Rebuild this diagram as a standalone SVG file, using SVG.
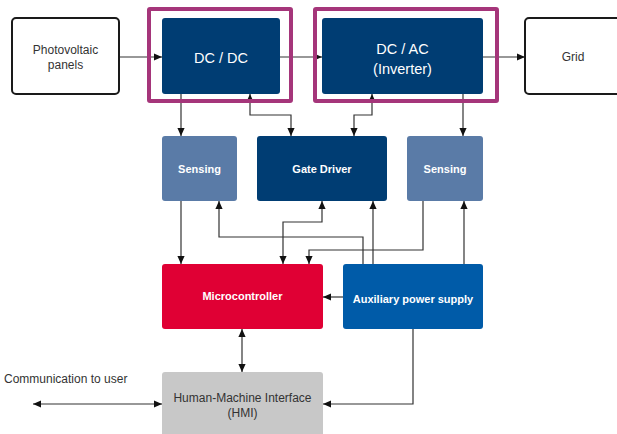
<svg xmlns="http://www.w3.org/2000/svg" width="617" height="434" viewBox="0 0 617 434">
<defs>
<marker id="ah" viewBox="0 0 10 10" refX="10" refY="5" markerWidth="8" markerHeight="8" markerUnits="userSpaceOnUse" orient="auto-start-reverse">
<path d="M0,0.5 L10,5 L0,9.5 z" fill="#111"/>
</marker>
<style>
.ln{fill:none;stroke:#333;stroke-width:1.2}
.ar{marker-end:url(#ah)}
.ar2{marker-start:url(#ah);marker-end:url(#ah)}
.t{font-family:"Liberation Sans",Arial,sans-serif;text-anchor:middle;dominant-baseline:central}
.w{fill:#fff}
.b{font-weight:bold;font-size:11px}
.frame{fill:none;stroke:#A5357A;stroke-width:4}
.ext{fill:#fff;stroke:#1a1a1a;stroke-width:2}
</style>
</defs>
<rect width="617" height="434" fill="#fff"/>

<g id="connectors">
<path class="ln ar" d="M119,57 H162"/>
<path class="ln ar" d="M280,57 H322"/>
<path class="ln ar" d="M483,57 H525"/>
<path class="ln ar" d="M181,94 V136"/>
<path class="ln ar2" d="M250,94 V115 H291 V136"/>
<path class="ln ar2" d="M372,94 V115 H354 V136"/>
<path class="ln ar" d="M463,94 V136"/>
<path class="ln ar" d="M181,201 V264"/>
<path class="ln ar" d="M363,264 V237 H219 V201"/>
<path class="ln ar" d="M373,264 V201"/>
<path class="ln ar2" d="M283,264 V222 H322 V201"/>
<path class="ln ar" d="M423,201 V250 H309 V264"/>
<path class="ln ar" d="M464,264 V201"/>
<path class="ln ar" d="M343,297 H323"/>
<path class="ln ar2" d="M242,329 V372"/>
<path class="ln ar" d="M413,329 V404 H323"/>
<path class="ln ar2" d="M33,404 H162"/>
</g>

<g id="pv">
<rect class="ext" x="12" y="18" width="107" height="76" rx="4"/>
<text class="t" x="65.5" y="50" font-size="12" fill="#333">Photovoltaic</text>
<text class="t" x="65.5" y="65" font-size="12" fill="#333">panels</text>
</g>

<g id="dcdc">
<rect x="162" y="18" width="118" height="76" rx="3" fill="#003D73"/>
<rect class="frame" x="149" y="9" width="142" height="92" rx="1"/>
<text class="t w" x="221" y="58" font-size="14.5">DC / DC</text>
</g>

<g id="dcac">
<rect x="322" y="18" width="161" height="76" rx="3" fill="#003D73"/>
<rect class="frame" x="315" y="9" width="182" height="92" rx="1"/>
<text class="t w" x="402.5" y="49" font-size="14.5">DC / AC</text>
<text class="t w" x="402.5" y="69" font-size="14.5">(Inverter)</text>
</g>

<g id="grid">
<rect class="ext" x="525" y="18" width="100" height="76" rx="4"/>
<text class="t" x="573" y="57" font-size="12" fill="#333">Grid</text>
</g>

<g id="sensing1">
<rect x="162" y="136" width="75" height="65" rx="3" fill="#5A7BA7"/>
<text class="t w b" x="199.5" y="168.5">Sensing</text>
</g>

<g id="gatedriver">
<rect x="257" y="136" width="130" height="65" rx="3" fill="#003D73"/>
<text class="t w b" x="322" y="168.5">Gate Driver</text>
</g>

<g id="sensing2">
<rect x="407" y="136" width="76" height="65" rx="3" fill="#5A7BA7"/>
<text class="t w b" x="445" y="168.5">Sensing</text>
</g>

<g id="mcu">
<rect x="162" y="264" width="161" height="65" rx="3" fill="#E00034"/>
<text class="t w b" x="242.5" y="296">Microcontroller</text>
</g>

<g id="aux">
<rect x="343" y="264" width="140" height="65" rx="3" fill="#005BA8"/>
<text class="t w b" x="413" y="299">Auxiliary power supply</text>
</g>

<g id="hmi">
<rect x="162" y="372" width="161" height="70" rx="3" fill="#C8C8C8"/>
<text class="t" x="242.5" y="398" font-size="12" fill="#333">Human-Machine Interface</text>
<text class="t" x="242.5" y="413" font-size="12" fill="#333">(HMI)</text>
</g>

<g id="comm">
<text x="4" y="383" font-family="Liberation Sans,Arial,sans-serif" font-size="12" fill="#333">Communication to user</text>
</g>
</svg>
